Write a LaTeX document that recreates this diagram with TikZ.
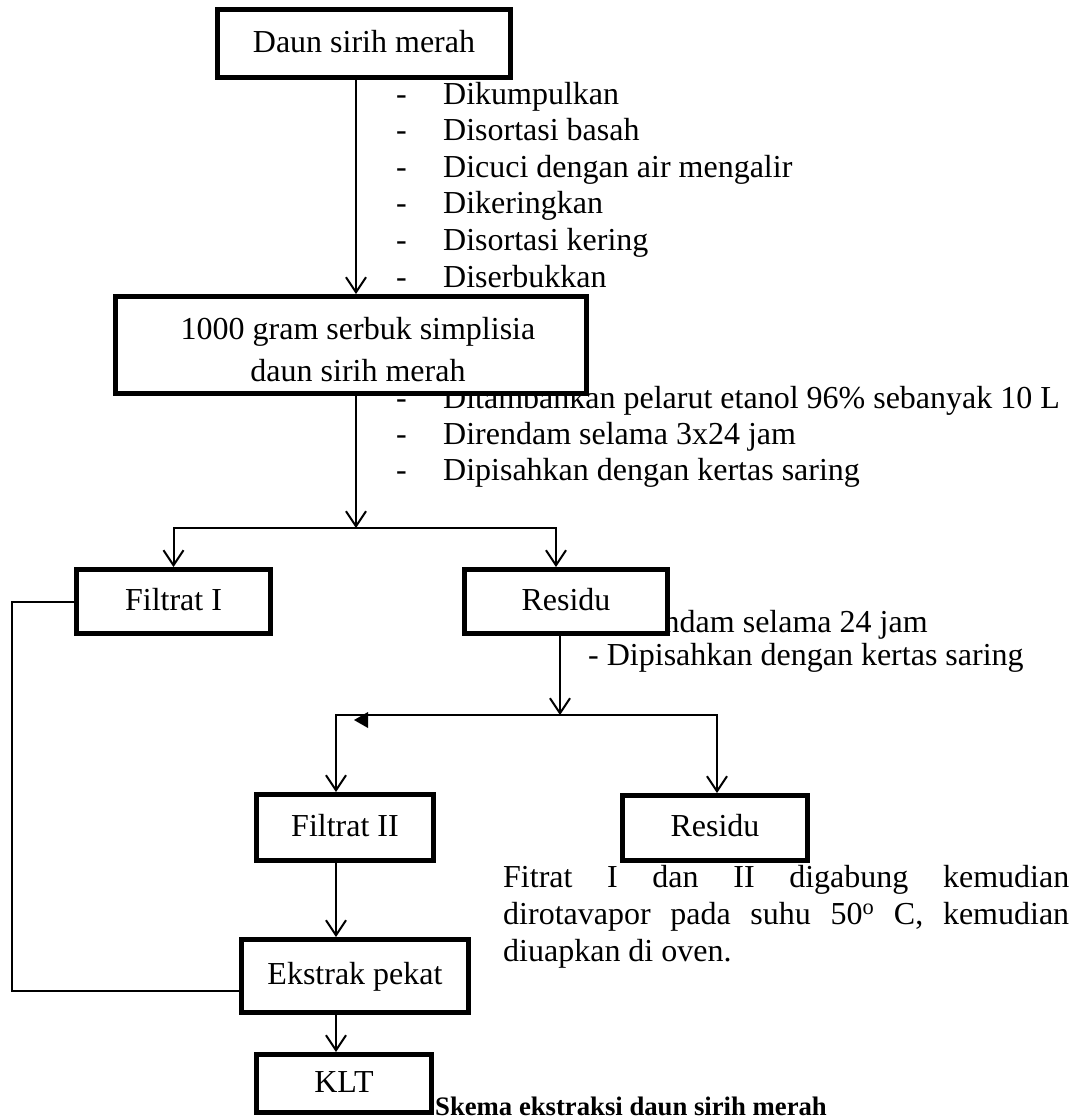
\documentclass[tikz,border=0pt]{standalone}
\usepackage{fontspec}
\setmainfont{Liberation Serif}
\usetikzlibrary{arrows.meta}
\newcommand{\bodytxt}{\fontsize{32}{37}\selectfont}
\newcommand{\captiontxt}{\fontsize{26.7}{31}\selectfont\bfseries}

\begin{document}
\begin{tikzpicture}[x=1pt,y=-1pt,
  box/.style={draw, line width=5pt, fill=white, inner sep=0pt, font=\bodytxt,
              text height=22pt, text depth=5pt},
  conn/.style={line width=2pt},
  arr/.style={conn, -{Straight Barb[length=15pt,width=20pt,line width=2pt]}},
  txt/.style={anchor=base west, inner sep=0pt, font=\bodytxt},
  ctxt/.style={anchor=base, inner sep=0pt, font=\bodytxt}]
\useasboundingbox (0,0) rectangle (1081,1120);
\fill[white] (0,0) rectangle (1081,1120);

% ---- process notes (drawn first, boxes partly cover them) ----
\node[txt] (steps1) at (396,104) {\parbox[t]{680pt}{\baselineskip=36.6pt
  \makebox[47pt][l]{-}Dikumpulkan\\
  \makebox[47pt][l]{-}Disortasi basah\\
  \makebox[47pt][l]{-}Dicuci dengan air mengalir\\
  \makebox[47pt][l]{-}Dikeringkan\\
  \makebox[47pt][l]{-}Disortasi kering\\
  \makebox[47pt][l]{-}Diserbukkan}};

\node[txt] (steps2) at (396,408) {\parbox[t]{680pt}{\baselineskip=36pt
  \makebox[47pt][l]{-}Ditambahkan pelarut etanol 96\% sebanyak 10 L\\
  \makebox[47pt][l]{-}Direndam selama 3x24 jam\\
  \makebox[47pt][l]{-}Dipisahkan dengan kertas saring}};

\node[txt] (steps3) at (588,632) {\parbox[t]{480pt}{\baselineskip=33pt
  - Direndam selama 24 jam\\
  - Dipisahkan dengan kertas saring}};

\node[txt] (note) at (503,887) {\parbox[t]{566pt}{\baselineskip=37pt
  \makebox[566pt][s]{Fitrat I dan II digabung kemudian}\\
  \makebox[566pt][s]{dirotavapor pada suhu 50\textsuperscript{o} C, kemudian}\\
  diuapkan di oven.}};

% ---- boxes ----
\node[box, minimum width=293pt, minimum height=68pt] (b1) at (364,43.5) {Daun sirih merah};
\node[box, minimum width=471pt, minimum height=97pt] (b2) at (351,345) {};
\node[ctxt] (b2a) at (358,339) {1000 gram serbuk simplisia};
\node[ctxt] (b2b) at (358,381) {daun sirih merah};
\node[box, minimum width=194pt, minimum height=64pt] (f1) at (173.5,601.5) {Filtrat I};
\node[box, minimum width=203pt, minimum height=64pt] (r1) at (566,601.5) {Residu};
\node[box, minimum width=177pt, minimum height=66pt] (f2) at (345,827.5) {Filtrat II};
\node[box, minimum width=185pt, minimum height=65pt] (r2) at (715,828) {Residu};
\node[box, minimum width=227pt, minimum height=73pt] (ek) at (355,976) {Ekstrak pekat};
\node[box, minimum width=175pt, minimum height=58pt] (klt) at (344,1083.5) {KLT};

\node[anchor=base west, inner sep=0pt, font=\captiontxt] (cap) at (435,1115)
  {Skema ekstraksi daun sirih merah};

% ---- connector routing points ----
\coordinate (c1) at (356,0);
\coordinate (j1) at (356,528);
\coordinate (j1r) at (556,528);
\coordinate (j2) at (560,715);
\coordinate (j2l) at (336,715);
\coordinate (j2r) at (717,715);
\coordinate (lp) at (12,991);

% ---- connectors ----
\draw[arr] (b1.south -| c1) -- (b2.north -| c1);
\draw[arr] (b2.south -| c1) -- (j1);
\draw[arr] (j1) -| (f1.north);
\draw[arr] (j1) -- (j1r) -- (j1r |- r1.north);
\draw[arr] (r1.south -| j2) -- (j2);
\draw[arr] (j2) -- (j2l) -- (j2l |- f2.north);
\draw[arr] (j2) -- (j2r) -- (j2r |- r2.north);
\fill (354,720) -- (368,712) -- (368,728) -- cycle;
\draw[arr] (f2.south -| j2l) -- (ek.north -| j2l);
\draw[arr] (ek.south -| j2l) -- (klt.north -| j2l);
\draw[conn] (f1.west) -- (f1.west -| lp) -- (lp) -- (lp -| ek.west);
\end{tikzpicture}
\end{document}
